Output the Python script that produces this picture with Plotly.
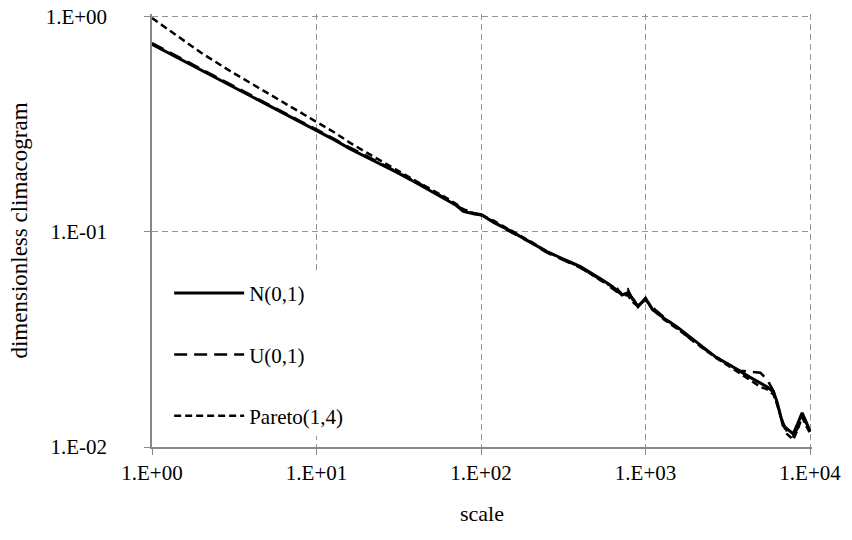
import plotly.graph_objects as go

scale = [1, 1.5, 2, 3, 4, 5, 6, 8, 10, 13, 16, 20, 25, 30, 40, 50, 60, 70, 78, 90,
         100, 120, 150, 200, 250, 300, 400, 530, 600, 670, 720, 780, 850, 900, 1000,
         1100, 1300, 1550, 2050, 2700, 3200, 3750, 4300, 5000, 5500, 6000, 6300, 6850,
         7250, 7900, 8400, 8950, 9500, 10000]

normal = [0.740, 0.630, 0.561, 0.477, 0.425, 0.389, 0.361, 0.322, 0.296, 0.265, 0.242,
          0.222, 0.205, 0.190, 0.169, 0.154, 0.142, 0.133, 0.124, 0.121, 0.120, 0.110,
          0.101, 0.089, 0.081, 0.076, 0.069, 0.0605, 0.057, 0.0535, 0.0508, 0.052, 0.048,
          0.0448, 0.049, 0.0435, 0.0395, 0.0362, 0.0305, 0.026, 0.0242, 0.0224, 0.0211,
          0.0198, 0.0190, 0.0180, 0.0162, 0.0126, 0.0121, 0.0115, 0.0128, 0.0144, 0.0130,
          0.0118]

uniform = [0.750, 0.636, 0.566, 0.481, 0.428, 0.392, 0.364, 0.325, 0.298, 0.267, 0.245,
           0.225, 0.206, 0.192, 0.171, 0.156, 0.143, 0.134, 0.126, 0.121, 0.119, 0.111,
           0.100, 0.089, 0.080, 0.075, 0.068, 0.0600, 0.0560, 0.0525, 0.0520, 0.0540,
           0.0470, 0.0455, 0.0480, 0.0445, 0.0400, 0.0358, 0.0300, 0.0262, 0.0240, 0.0226,
           0.0223, 0.0221, 0.0205, 0.0182, 0.0160, 0.0130, 0.0118, 0.0112, 0.0122, 0.0140,
           0.0128, 0.0121]

pareto = [0.980, 0.787, 0.674, 0.555, 0.488, 0.441, 0.406, 0.356, 0.325, 0.287, 0.258,
          0.233, 0.211, 0.195, 0.172, 0.157, 0.145, 0.135, 0.127, 0.122, 0.120, 0.112,
          0.102, 0.090, 0.081, 0.0755, 0.0685, 0.0595, 0.0565, 0.0545, 0.0510, 0.0505,
          0.0465, 0.0450, 0.0490, 0.0440, 0.0390, 0.0355, 0.0302, 0.0258, 0.0238, 0.0220,
          0.0205, 0.0190, 0.0185, 0.0175, 0.0158, 0.0128, 0.0115, 0.0108, 0.0120, 0.0138,
          0.0125, 0.0116]

x_ticks = [1, 10, 100, 1000, 10000]
x_labels = ["1.E+00", "1.E+01", "1.E+02", "1.E+03", "1.E+04"]
y_ticks = [0.01, 0.1, 1]
y_labels = ["1.E-02", "1.E-01", "1.E+00"]

FONT = "Liberation Serif"
FS = 21

fig = go.Figure()
fig.add_trace(go.Scatter(x=scale, y=normal, mode="lines", name="N(0,1)", legendgroup="a",
                         line=dict(color="black", width=3)))
fig.add_trace(go.Scatter(x=scale, y=uniform, mode="lines", name="U(0,1)", legendgroup="b",
                         line=dict(color="black", width=2.5, dash="13px,7px")))
fig.add_trace(go.Scatter(x=scale, y=pareto, mode="lines", name="Pareto(1,4)", legendgroup="c",
                         line=dict(color="black", width=2.5, dash="7px,4px")))

axis_common = dict(
    type="log", showgrid=True, gridcolor="#959595", griddash="6px,4px", gridwidth=1,
    showline=True, linecolor="#878787", linewidth=1.5, ticks="outside", ticklen=6,
    tickcolor="#878787", tickfont=dict(family=FONT, size=FS, color="black"),
    zeroline=False, mirror=False, automargin=False,
)

fig.update_layout(
    width=852, height=540,
    margin=dict(l=152, r=40, t=14, b=93),
    paper_bgcolor="white", plot_bgcolor="white",
    font=dict(family=FONT, size=FS, color="black"),
    xaxis=dict(range=[0, 4.012], tickvals=x_ticks, ticktext=x_labels,
               title=dict(text="scale", font=dict(family=FONT, size=FS + 1), standoff=22),
               **axis_common),
    yaxis=dict(range=[-2, 0.01], tickvals=y_ticks, ticktext=y_labels, ticklabelstandoff=33,
               title=dict(text="dimensionless climacogram", font=dict(family=FONT, size=23),
                          standoff=12),
               **axis_common),
    legend=dict(x=0.026, y=0.402, xanchor="left", yanchor="top", bgcolor="white",
                tracegroupgap=31, itemwidth=70, font=dict(family=FONT, size=FS),
                traceorder="grouped"),
    showlegend=True,
)

fig.write_html("out.html")
